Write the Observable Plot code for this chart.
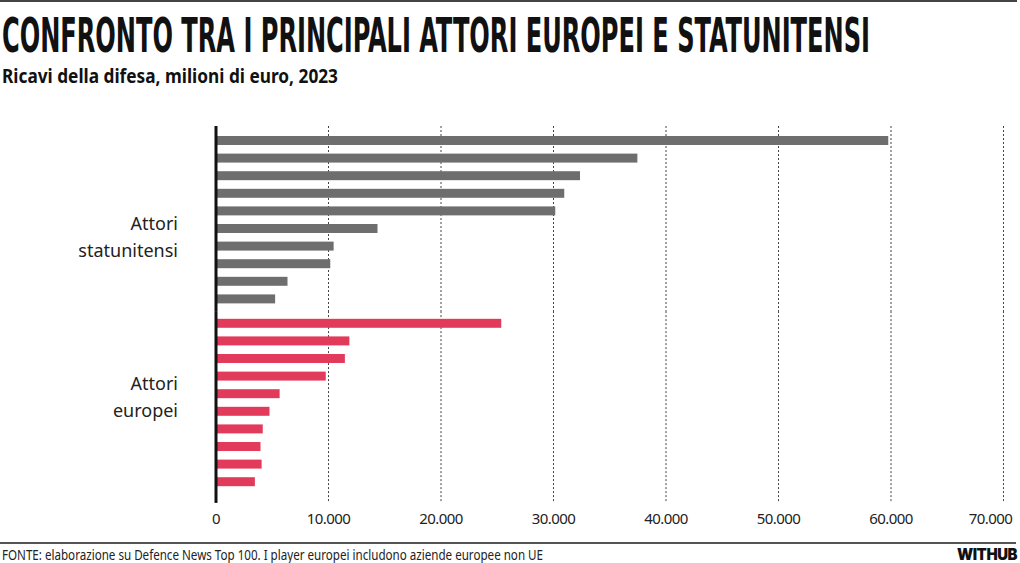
<!DOCTYPE html>
<html>
<head>
<meta charset="utf-8">
<script src="https://cdn.jsdelivr.net/npm/d3@7"></script>
<script src="https://cdn.jsdelivr.net/npm/@observablehq/plot@0.6"></script>
<style>
  html, body { margin: 0; padding: 0; background: #fff; }
  body { width: 1020px; height: 563px; position: relative; overflow: hidden; font-family: "Noto Sans", sans-serif; color: #111; }
  .abs { position: absolute; white-space: nowrap; transform-origin: 0 0; line-height: 1; }
  #title { left: 2px; top: 7.4px; font: 700 48px "Liberation Sans Narrow", "DejaVu Sans Condensed", sans-serif; color: #111; }
  #subtitle { left: 2px; top: 62.2px; font: 700 20px "Noto Sans", sans-serif; color: #111; }
  #source { left: 2px; top: 544.6px; font: 400 14px "Noto Sans", sans-serif; color: #222; }
  #brand { left: 956.7px; top: 544.6px; font: 900 15.5px "Inter", sans-serif; color: #111; letter-spacing: -0.5px; }
  #ruleTop { position: absolute; left: 0; top: 0; width: 1017px; height: 2px; background: #444; }
  #ruleBottom { position: absolute; left: 0; top: 541.5px; width: 1016px; height: 2px; background: #555; }
  #chart { position: absolute; left: 0; top: 100px; }
</style>
</head>
<body>
<div id="ruleTop"></div>
<div id="title" class="abs">CONFRONTO TRA I PRINCIPALI ATTORI EUROPEI E STATUNITENSI</div>
<div id="subtitle" class="abs">Ricavi della difesa, milioni di euro, 2023</div>
<div id="chart"></div>
<div id="ruleBottom"></div>
<div id="source" class="abs">FONTE: elaborazione su Defence News Top 100. I player europei includono aziende europee non UE</div>
<div id="brand" class="abs">WITHUB</div>
<script>
// ---- Data (milioni di euro, 2023) ----
const groupKeys = ["US", "EU"];
const groupLabels = ["Attori\nstatunitensi", "Attori\neuropei"];
const groupColors = ["#6e6e6e", "#e23a5a"];
const usRevenue = [59800, 37500, 32400, 31000, 30200, 14400, 10500, 10200, 6400, 5300];
const euRevenue = [25400, 11900, 11500, 9800, 5700, 4800, 4200, 4000, 4100, 3500];
const xTicks = [0, 10000, 20000, 30000, 40000, 50000, 60000, 70000];

const rows = [
  ...usRevenue.map((v, i) => ({group: groupKeys[0], rank: i + 1, value: v})),
  ...euRevenue.map((v, i) => ({group: groupKeys[1], rank: i + 1, value: v}))
];
const ranks = d3.range(1, usRevenue.length + 1);
const it = d3.formatLocale({decimal: ",", thousands: ".", grouping: [3], currency: ["€", ""]});
const fmt = it.format(",d");

const gridStyle = {stroke: "#444", strokeWidth: 1, strokeDasharray: "2,2"};
const axisStyle = {stroke: "#111", strokeWidth: 3};

const chart = Plot.plot({
  width: 1020,
  height: 440,
  marginTop: 28.3,
  marginBottom: 46.1,
  marginLeft: 215.5,
  marginRight: 17,
  style: {fontFamily: "Noto Sans", fontSize: "15px", color: "#222", background: "transparent"},
  x: {domain: [0, 70000], axis: null, label: null},
  y: {type: "band", domain: ranks, paddingInner: 0.49, paddingOuter: 0.438, align: 0.5, round: false, axis: null},
  fy: {domain: groupKeys, padding: 0, round: false, axis: null},
  color: {domain: groupKeys, range: groupColors},
  marks: [
    Plot.ruleX(xTicks.slice(1), {x: d => d, fy: () => groupKeys[0], insetTop: -2.3, ...gridStyle}),
    Plot.ruleX(xTicks.slice(1), {x: d => d, fy: () => groupKeys[1], insetBottom: -9, ...gridStyle}),
    Plot.barX(rows, {x: "value", y: "rank", fy: "group", fill: "group"}),
    Plot.ruleX([0], {x: d => d, fy: () => groupKeys[0], insetTop: -2.3, ...axisStyle}),
    Plot.ruleX([0], {x: d => d, fy: () => groupKeys[1], insetBottom: -9, ...axisStyle}),
    Plot.text([groupLabels[0]], {text: d => d, fy: () => groupKeys[0], frameAnchor: "left", dx: -38, dy: 14.5, textAnchor: "end", lineHeight: 1.5, fontSize: 18, fill: "#222"}),
    Plot.text([groupLabels[1]], {text: d => d, fy: () => groupKeys[1], frameAnchor: "left", dx: -38, dy: -8, textAnchor: "end", lineHeight: 1.5, fontSize: 18, fill: "#222"}),
    Plot.axisX(xTicks.slice(0, -1), {tickSize: 0, tickPadding: 19, tickFormat: fmt, fontSize: 15, fill: "#222", label: null}),
    Plot.axisX(xTicks.slice(-1), {tickSize: 0, tickPadding: 19, tickFormat: fmt, fontSize: 15, fill: "#222", textAnchor: "end", dx: 8.7, label: null})
  ]
});
document.getElementById("chart").appendChild(chart);
d3.select(chart).selectAll('g[aria-label="x-axis tick label"] text').style("letter-spacing", "-0.6px");

function fit(id, target) {
  const el = document.getElementById(id);
  el.style.transform = "none";
  const w = el.getBoundingClientRect().width;
  if (w > 0) el.style.transform = `scaleX(${target / w})`;
}
function fitAll() {
  fit("title", 868);
  fit("subtitle", 336);
  fit("source", 541);
  fit("brand", 60);
}
fitAll();
if (document.fonts && document.fonts.ready) document.fonts.ready.then(fitAll);
</script>
</body>
</html>
